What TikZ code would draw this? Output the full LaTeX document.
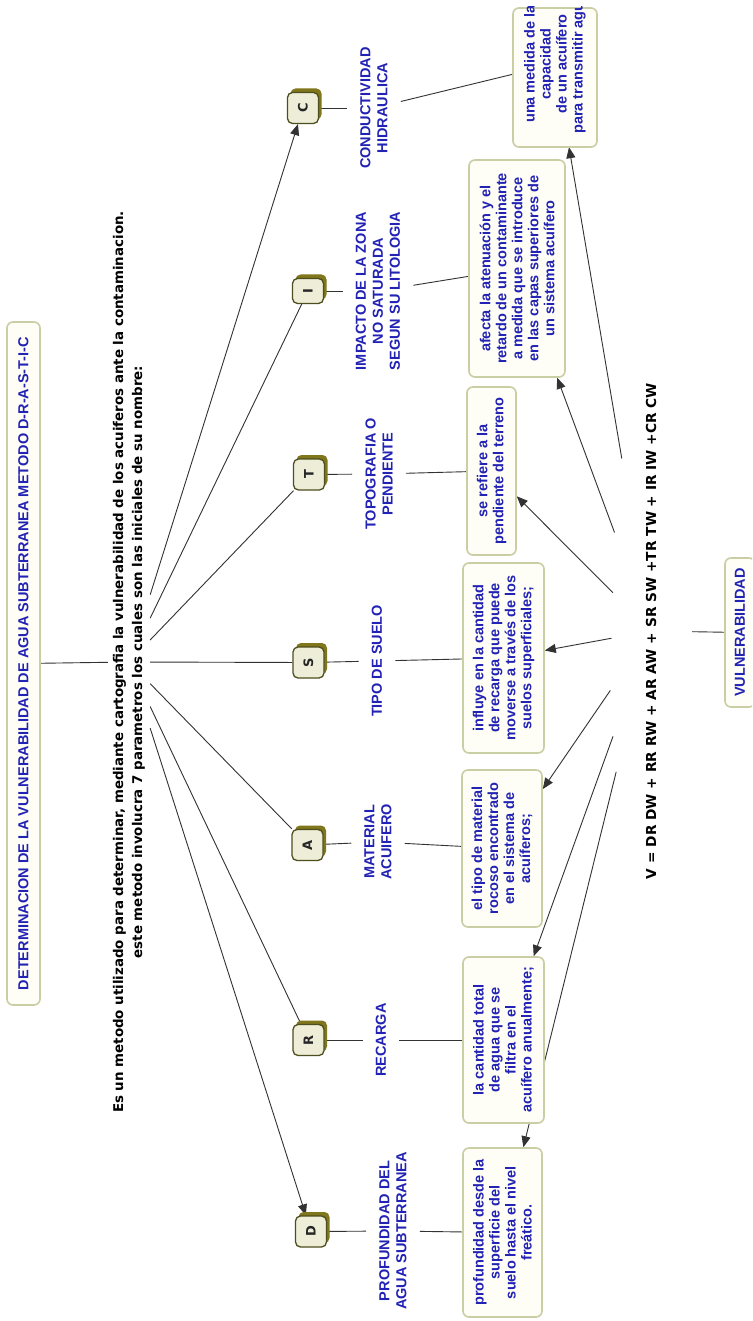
\documentclass[tikz,border=0pt]{standalone}
\usepackage{fontspec}
\setmainfont{Liberation Sans}
\newfontfamily\blueface{Liberation Sans Bold}
\newfontfamily\veraface{DejaVu Sans Bold}
\usetikzlibrary{arrows.meta}
\definecolor{conceptblue}{RGB}{34,34,180}
\definecolor{boxedge}{RGB}{202,206,164}
\definecolor{boxfill}{RGB}{254,254,246}
\definecolor{linkgray}{RGB}{50,50,50}
\definecolor{tabedge}{RGB}{78,78,30}
\definecolor{tabfill}{RGB}{238,238,216}
\definecolor{tabshadow}{RGB}{128,118,28}
\pgfdeclarelayer{bg}
\pgfsetlayers{bg,main}
\begin{document}
\begin{tikzpicture}[x=1pt,y=-1pt,
  descbox/.style={rotate=90, draw=boxedge, line width=1.6pt, fill=boxfill,
    rounded corners=6pt, align=center, inner sep=0pt, text=conceptblue,
    font=\blueface\fontsize{14.5}{16}\selectfont},
  desctext/.style={rotate=90, align=center, inner sep=0pt, text=conceptblue,
    font=\blueface\fontsize{14.5}{16}\selectfont},
  tab/.style={rotate=90, draw=tabedge, line width=1.3pt, fill=tabfill,
    rounded corners=5pt, minimum width=31pt, minimum height=31pt, inner sep=0pt,
    font=\veraface\fontsize{13}{14}\selectfont, text=black!85},
  paramname/.style={rotate=90, align=center, inner sep=13pt, text=conceptblue,
    font=\blueface\fontsize{14.5}{17}\selectfont},
  link/.style={draw=linkgray, line width=0.9pt},
  tiplink/.style={link, -{Triangle[length=11pt,width=9pt]}},
]
\useasboundingbox (0,0) rectangle (752,1321);
\begin{pgfonlayer}{bg}
  \fill[white] (0,0) rectangle (752,1321);
\end{pgfonlayer}
\clip (0,7) rectangle (752,1321);

% title and introductory phrase
\node[descbox, minimum width=683pt, minimum height=33pt] (title) at (23.5,663.5)
  {DETERMINACION DE LA VULNERABILIDAD DE AGUA SUBTERRANEA METODO D-R-A-S-T-I-C};
\node[rotate=90, align=center, inner sep=5pt,
      font=\veraface\fontsize{13.4}{19}\selectfont] (phrase) at (129,662)
  {Es un metodo utilizado para determinar, mediante cartografia la vulnerabilidad de los acuiferos ante la contaminacion.\\
   este metodo involucra 7 parametros los cuales son las iniciales de su nombre:};

% shadows of the letter tabs
\foreach \cx/\cy/\len in {303/108/31, 308/291/25, 309/474.5/31, 308.5/662.5/31,
                          307.5/845/31, 308.5/1040/31, 311/1231.5/31}
  \fill[tabshadow, rounded corners=5pt]
    (\cx-15.5+3, \cy-\len/2-4) rectangle (\cx+15.5+3, \cy+\len/2-4);

% letter tabs
\node[tab] (tC) at (303,108) {C};
\node[tab, minimum width=25pt] (tI) at (308,291) {I};
\node[tab] (tT) at (309,474.5) {T};
\node[tab] (tS) at (308.5,662.5) {S};
\node[tab] (tA) at (307.5,845) {A};
\node[tab] (tR) at (308.5,1040) {R};
\node[tab] (tD) at (311,1231.5) {D};

% parameter names
\node[paramname] (nC) at (374,108) {CONDUCTIVIDAD\\HIDRAULICA};
\node[paramname] (nI) at (378,291) {IMPACTO DE LA ZONA\\NO SATURADA\\SEGUN SU LITOLOGIA};
\node[paramname] (nT) at (379,474) {TOPOGRAFIA O\\PENDIENTE};
\node[paramname] (nS) at (377,661) {TIPO DE SUELO};
\node[paramname] (nA) at (378,842) {MATERIAL\\ACUIFERO};
\node[paramname] (nR) at (381,1040) {RECARGA};
\node[paramname] (nD) at (393,1231) {PROFUNDIDAD DEL\\AGUA SUBTERRANEA};

% descriptions
\node[descbox, minimum width=139pt, minimum height=84pt] (cbox) at (555,77.5) {};
\node[desctext, minimum width=166pt, minimum height=84pt] (cdesc) at (555,64)
  {una medida de la\\capacidad\\de un acuífero\\para transmitir agua};
\node[descbox, minimum width=217pt, minimum height=96pt] (idesc) at (517,268.5)
  {afecta la atenuación y el\\retardo de un contaminante\\a medida que se introduce\\en las capas superiores de\\un sistema acuífero};
\node[descbox, minimum width=168pt, minimum height=49pt] (tdesc) at (491.5,471)
  {se refiere a la\\pendiente del terreno};
\node[descbox, minimum width=190pt, minimum height=81pt] (sdesc) at (503.5,658)
  {influye en la cantidad\\de recarga que puede\\moverse a través de los\\suelos superficiales;};
\node[descbox, minimum width=157pt, minimum height=80pt] (adesc) at (502,848.5)
  {el tipo de material\\rocoso encontrado\\en el sistema de\\acuíferos;};
\node[descbox, minimum width=166pt, minimum height=81pt] (rdesc) at (503.5,1040)
  {la cantidad total\\de agua que se\\filtra en el\\acuífero anualmente;};
\node[descbox, minimum width=169pt, minimum height=79pt] (ddesc) at (502.5,1232.5)
  {profundidad desde la\\superficie del\\suelo hasta el nivel\\freático.};

% weighting formula and result
\node[rotate=90, inner sep=0pt, font=\veraface\fontsize{13.75}{16}\selectfont]
  (formula) at (651,631) {V = DR DW + RR RW + AR AW + SR SW +TR TW + IR IW +CR CW};
\node[descbox, minimum width=149pt, minimum height=30pt] (vuln) at (740,632.5)
  {VULNERABILIDAD};

% connectors, kept beneath the boxes
\begin{pgfonlayer}{bg}
  \draw[link] (title) -- (phrase);
  \draw[tiplink] (phrase) -- (tC);
  \draw[link] (phrase) -- (tI);
  \draw[link] (phrase) -- (tT);
  \draw[link] (phrase) -- (tS);
  \draw[link] (phrase) -- (tA);
  \draw[link] (phrase) -- (tR);
  \draw[tiplink] (phrase) -- (tD);
  \foreach \p/\q in {C/c, I/i, T/t, S/s, A/a, R/r, D/d} {
    \draw[link] (t\p) -- (n\p);
    \draw[link] (n\p) -- (\q desc);
  }
  \draw[tiplink, shorten <=175pt] (formula.center) -- (cdesc);
  \draw[tiplink, shorten <=105pt] (formula.center) -- (idesc);
  \draw[tiplink, shorten <=54pt] (formula.center) -- (tdesc);
  \draw[tiplink, shorten <=40pt] (formula.center) -- (sdesc);
  \draw[tiplink, shorten <=72pt] (formula.center) -- (adesc);
  \draw[tiplink, shorten <=112pt] (formula.center) -- (rdesc);
  \draw[tiplink, shorten <=145pt] (formula.center) -- (ddesc);
  \draw[link, shorten <=41pt] (formula.center) -- (vuln);
\end{pgfonlayer}
\end{tikzpicture}
\end{document}
